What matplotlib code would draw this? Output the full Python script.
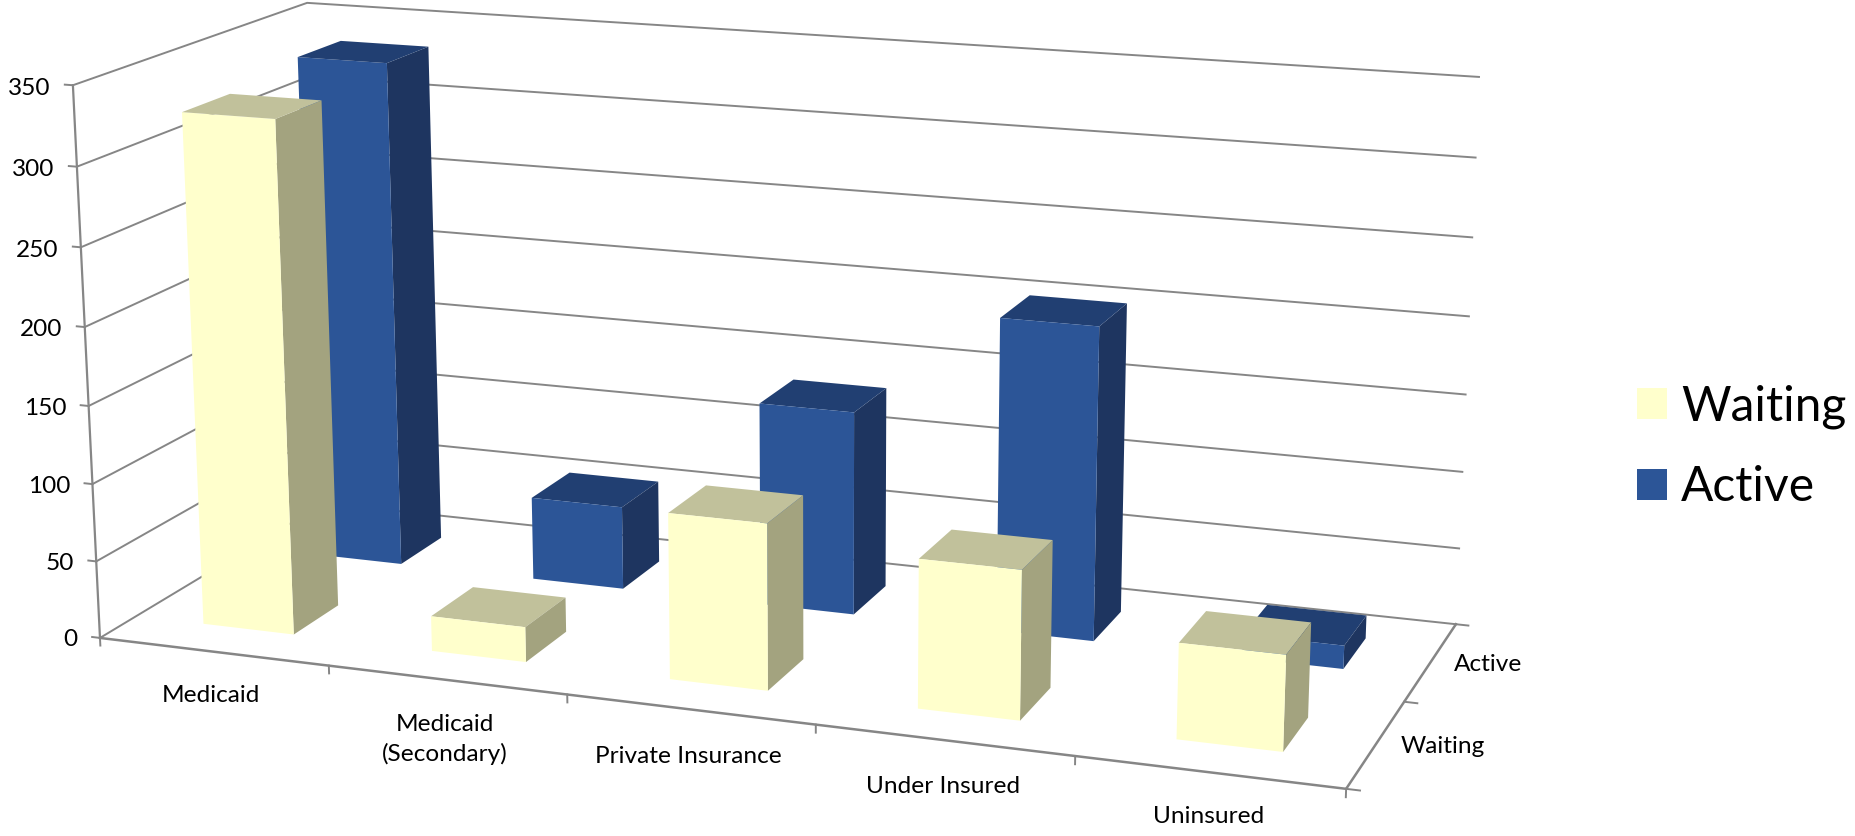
import numpy as np
import matplotlib
matplotlib.use('Agg')
import matplotlib.pyplot as plt
from matplotlib.patches import Patch
from mpl_toolkits.mplot3d import proj3d

plt.rcParams['font.family'] = ['Lato', 'DejaVu Sans']

categories = ['Medicaid', 'Medicaid\n(Secondary)', 'Private Insurance', 'Under Insured', 'Uninsured']
series_names = ['Waiting', 'Active']
waiting = [328, 22.5, 105, 93, 59]
active = [335, 55, 133, 202, 15]
value_ticks = [0, 50, 100, 150, 200, 250, 300, 350]

WIDTH, HEIGHT = 1855, 836

GRID = '#868686'
TEXT = '#000000'
# front, top, side of each bar
YELLOW = ['#FFFFCC', '#C1C19B', '#A3A37F']
BLUE = ['#2C5597', '#213F72', '#1E3560']

# where the corners of the chart box sit in the picture (pixels, y down)
corners_3d = [(0, 0, 0), (5, 0, 0), (5, 2, 0), (0, 0, 350), (0, 2, 350), (5, 2, 350)]
corners_px = [(100, 638), (1346, 789), (1456, 624), (73, 85), (307, 3), (1479, 77)]

# category labels do not sit on one straight line in the original
label_x = [0.737, 1.775, 2.682, 3.648, 4.611]
label_y = [-0.475, -0.62, -0.487, -0.467, -0.44]


def fit_projection(ax):
	#the 2d side of Axes3D has its own small data range, so go through transData
	to_data = ax.transData.inverted()
	rows = []
	for (x, y, z), (px, py) in zip(corners_3d, corners_px):
		u, v = to_data.transform((px, HEIGHT - py))
		X = [x / 5, y / 2, z / 350, 1]
		rows.append(X + [0, 0, 0, 0] + [-u * a for a in X])
		rows.append([0, 0, 0, 0] + X + [-v * a for a in X])
	P = np.linalg.svd(np.array(rows))[2][-1].reshape(3, 4)
	P = P @ np.diag([1 / 5, 1 / 2, 1 / 350, 1])
	if P[2, 3] < 0:
		P = -P
	#third row gives a depth that grows away from the camera
	return np.array([P[0], P[1], [0, 0, 0, -1], P[2]])


def draw_bars(ax, values, row, colors, zorder):
	x = np.arange(len(values)) + 0.3
	y = np.full(len(values), row + 0.3)
	clear = (0, 0, 0, 0)
	# bottom, top, front, back, left, right; only three faces can be seen
	faces = [clear, colors[1], colors[0], clear, clear, colors[2]]
	ax.bar3d(x, y, np.zeros(len(values)), 0.4, 0.4, values, color=faces * len(values),
		shade=False, linewidth=0, zorder=zorder)


def put_label(ax, x, y, z, text, ha):
	#text stays flat, only its anchor goes through the projection
	u, v, _ = proj3d.proj_transform(x, y, z, ax.get_proj())
	ax.text2D(u, v, text, transform=ax.transData, ha=ha, va='center', fontsize=17.6,
		color=TEXT, linespacing=1.45)


fig = plt.figure(figsize=(WIDTH / 100, HEIGHT / 100), dpi=100)
side = WIDTH / HEIGHT
ax = fig.add_axes([0, (1 - side) / 2, 1, side], projection='3d', computed_zorder=False)
ax.set_axis_off()
ax.set_xlim(0, 5)
ax.set_ylim(0, 2)
ax.set_zlim(0, 350)
ax.set_xticks([])
ax.set_yticks([])
ax.set_zticks([])
ax.apply_aspect()
M = fit_projection(ax)
ax.get_proj = lambda: M

line = dict(color=GRID, lw=1.4, zorder=1)
for v in value_ticks:
	ax.plot([0, 0, 5], [0, 2, 2], [v, v, v], **line)
	ax.plot([-0.035, 0], [0, 0], [v, v], **line)
	put_label(ax, -0.10, 0, v - 3, str(v), 'right')

ax.plot([0, 0], [0, 0], [0, 350], color=GRID, lw=1.6, zorder=1)
ax.plot([0, 5, 5], [0, 0, 2], [0, 0, 0], color=GRID, lw=1.8, zorder=1)
for i in range(len(categories) + 1):
	ax.plot([i, i], [0, 0], [0, -5], **line)
for j in range(len(series_names) + 1):
	ax.plot([5, 5.05], [j, j], [0, 0], **line)

for i, name in enumerate(categories):
	put_label(ax, label_x[i], label_y[i], 0, name, 'center')
for j, name in enumerate(series_names):
	put_label(ax, 5.09, j + 0.5, 0, name, 'left')

draw_bars(ax, active, 1, BLUE, 2)
draw_bars(ax, waiting, 0, YELLOW, 3)

handles = [Patch(color=YELLOW[0], lw=0), Patch(color=BLUE[0], lw=0)]
fig.legend(handles, series_names, loc='center left', bbox_to_anchor=(1594 / WIDTH, 1 - 447 / HEIGHT),
	fontsize=34.5, frameon=False, handlelength=0.63, handleheight=0.63, handletextpad=0.29,
	labelspacing=0.76)

fig.savefig('out.png', dpi=100)
